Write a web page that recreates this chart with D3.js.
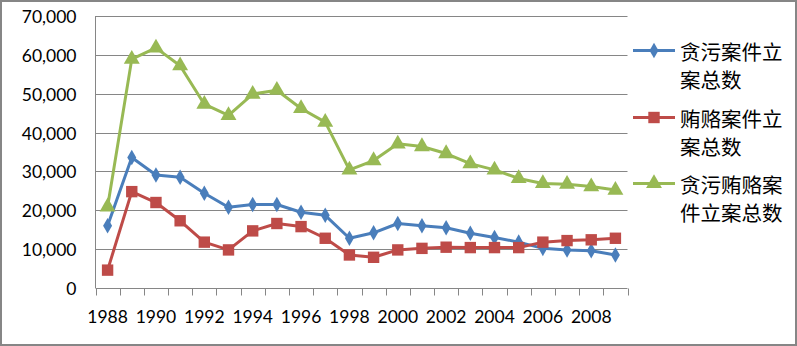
<!DOCTYPE html>
<html>
<head>
<meta charset="utf-8">
<script src="https://cdn.jsdelivr.net/npm/d3@7/dist/d3.min.js"></script>
<style>
  html, body { margin: 0; padding: 0; background: #fff; }
  svg { display: block; }
</style>
</head>
<body>
<svg id="chart" width="797" height="346"></svg>
<script>
// ---- data ----
const years = ["1988","1989","1990","1991","1992","1993","1994","1995","1996","1997","1998",
               "1999","2000","2001","2002","2003","2004","2005","2006","2007","2008","2009"];
const embezzlement = [16000,33600,29100,28500,24400,20800,21500,21500,19500,18700,12800,
                      14200,16600,16000,15500,14100,13000,11800,10200,9800,9600,8500];
const bribery = [4600,24800,22000,17300,11800,9800,14700,16600,15800,12800,8500,
                 7900,9800,10200,10500,10400,10400,10400,11800,12200,12400,12800];
const total = [20900,58900,61800,57200,47300,44400,49900,50900,46200,42700,30400,
               32800,37100,36400,34600,32000,30400,28200,26900,26700,26100,25200];
const seriesNames = [["贪污案件立","案总数"],["贿赂案件立","案总数"],["贪污贿赂案","件立案总数"]];
const yTicks = [0,10000,20000,30000,40000,50000,60000,70000];
const xLabels = ["1988","1990","1992","1994","1996","1998","2000","2002","2004","2006","2008"];

// ---- layout ----
const svg = d3.select("#chart");
const plotL = 95.5, plotR = 627.5, plotT = 16, plotB = 288;
const colors = ["#4A7EBB", "#BE4B48", "#98B954"];
const markers = [d3.symbolDiamond, d3.symbolSquare, d3.symbolTriangle];
const markerSizes = [70, 130, 110];

// outer border
svg.append("rect").attr("x", 1).attr("y", 1).attr("width", 795).attr("height", 344)
  .attr("fill", "#fff").attr("stroke", "#868686").attr("stroke-width", 2);

const x = d3.scaleBand().domain(years).range([plotL, plotR]);
const y = d3.scaleLinear().domain([0, 70000]).range([plotB, plotT]);

// gridlines
svg.append("g").selectAll("line").data(yTicks.filter(d => d > 0)).join("line")
  .attr("x1", plotL).attr("x2", plotR)
  .attr("y1", d => Math.round(y(d)) + 0.5).attr("y2", d => Math.round(y(d)) + 0.5)
  .attr("stroke", "#868686").attr("stroke-width", 1);

// y axis
const yAxis = d3.axisLeft(y).tickValues(yTicks).tickSize(0).tickPadding(0)
  .tickFormat(d3.format(","));
const gy = svg.append("g").attr("transform", `translate(${plotL},0)`).call(yAxis);
gy.select(".domain").attr("stroke", "#868686").attr("d", `M0,${plotT}V${plotB}`);
gy.selectAll(".tick text").attr("x", -19).attr("dy", "0.36em")
  .style("font-family", "Lato, 'Open Sans', sans-serif").style("font-size", "17.5px").attr("fill", "#000");
gy.selectAll(".tick").attr("transform", d => `translate(0,${Math.round(y(d)) + 0.5})`);

// x axis
const xAxis = d3.axisBottom(x).tickSize(0).tickValues(xLabels);
const gx = svg.append("g").attr("transform", `translate(0,${plotB + 0.5})`).call(xAxis);
gx.select(".domain").attr("stroke", "#868686").attr("d", `M${plotL},0H${plotR}`);
gx.selectAll(".tick text").attr("y", 34).attr("dy", "0")
  .style("font-family", "Lato, 'Open Sans', sans-serif").style("font-size", "17.5px").attr("fill", "#000");
// category boundary tick marks
const bounds = years.map(d => x(d)).concat([x(years[years.length - 1]) + x.bandwidth()]);
gx.append("g").selectAll("line").data(bounds).join("line")
  .attr("x1", d => Math.round(d) + 0.5).attr("x2", d => Math.round(d) + 0.5)
  .attr("y1", 0).attr("y2", 7).attr("stroke", "#868686");

// series
const allSeries = [embezzlement, bribery, total];
const line = d3.line().x((d, i) => x(years[i]) + x.bandwidth() / 2).y(d => y(d));
allSeries.forEach((vals, si) => {
  const g = svg.append("g");
  g.append("path").datum(vals).attr("d", line)
    .attr("fill", "none").attr("stroke", colors[si]).attr("stroke-width", 3)
    .attr("stroke-linejoin", "round");
  g.selectAll("path.m").data(vals).join("path").attr("class", "m")
    .attr("transform", (d, i) => `translate(${x(years[i]) + x.bandwidth() / 2},${y(d)})`)
    .attr("d", d3.symbol().type(markers[si]).size(markerSizes[si]))
    .attr("fill", colors[si]);
});

// legend
const legendY = [50.5, 117.5, 183.5];
const lg = svg.append("g");
seriesNames.forEach((lines, si) => {
  const ly = legendY[si];
  lg.append("line").attr("x1", 633).attr("x2", 675).attr("y1", ly).attr("y2", ly)
    .attr("stroke", colors[si]).attr("stroke-width", 3);
  lg.append("path").attr("transform", `translate(654,${ly})`)
    .attr("d", d3.symbol().type(markers[si]).size(markerSizes[si])).attr("fill", colors[si]);
  lines.forEach((t, li) => {
    lg.append("text").attr("x", 680).attr("y", ly + li * 28)
      .attr("dominant-baseline", "central")
      .style("font-family", "'Noto Sans CJK SC', sans-serif").style("font-size", "20.5px")
      .attr("fill", "#000").text(t);
  });
});
</script>
</body>
</html>
